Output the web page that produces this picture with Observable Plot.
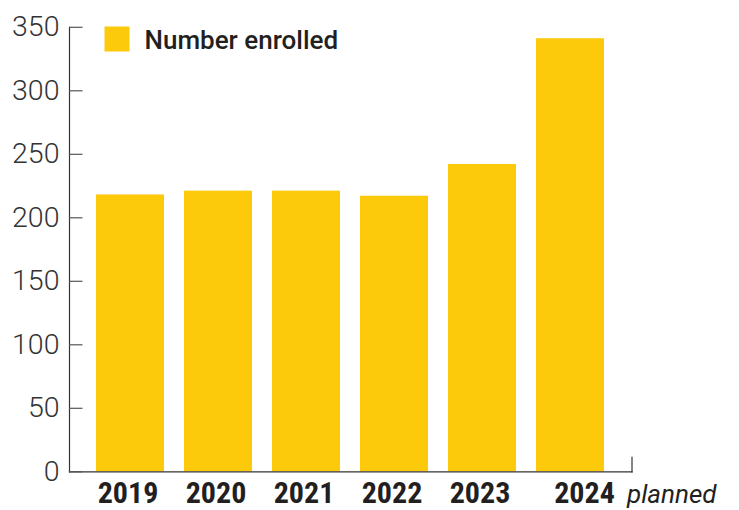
<!DOCTYPE html>
<html>
<head>
<meta charset="utf-8">
<script src="https://cdn.jsdelivr.net/npm/d3@7"></script>
<script src="https://cdn.jsdelivr.net/npm/@observablehq/plot@0.6"></script>
<style>
  html, body { margin: 0; padding: 0; background: #fff; }
  #chart svg { display: block; }
</style>
</head>
<body>
<div id="chart"></div>
<script>
const years = ["2019", "2020", "2021", "2022", "2023", "2024"];
const enrolled = [218, 221, 221, 217, 242, 341];
const plannedYear = "2024";
const plannedLabel = "planned";
const seriesName = "Number enrolled";
const yTicks = [0, 50, 100, 150, 200, 250, 300, 350];

const data = years.map((year, i) => ({year, value: enrolled[i]}));
const yellow = "#fdc90b";
const ink = "#231f20";
const yearFont = "'Liberation Sans Narrow', 'Roboto Condensed', Roboto, sans-serif";

const chart = Plot.plot({
  width: 739,
  height: 510,
  marginLeft: 69,
  marginRight: 107.5,
  marginTop: 26.8,
  marginBottom: 38.7,
  style: {fontFamily: "Roboto", background: "#fff", overflow: "visible"},
  x: {domain: years, paddingInner: 0.23, paddingOuter: 0.294, axis: null},
  y: {domain: [0, 350], axis: null},
  marks: [
    Plot.barY(data, {x: "year", y: "value", fill: yellow}),
    Plot.frame({anchor: "left", stroke: "#333", strokeWidth: 1.2}),
    Plot.frame({anchor: "bottom", stroke: "#333", strokeWidth: 1.2}),
    Plot.frame({anchor: "right", stroke: "#333", strokeWidth: 1.2, insetTop: 430}),
    Plot.tickY(yTicks, {y: d => d, stroke: "#555", strokeWidth: 1.2, insetRight: 549}),
    Plot.axisY({ticks: yTicks, tickSize: 0, tickPadding: 10, fontSize: 28.5, fontWeight: 300, fill: "#333", label: null}),
    Plot.text(years.filter(y => y !== plannedYear), {x: d => d, frameAnchor: "bottom", lineAnchor: "bottom", dy: 31.5, dx: -2.5, fontSize: 30, fontWeight: 700, fontFamily: yearFont, fill: ink}),
    Plot.text([plannedYear], {x: d => d, frameAnchor: "bottom", lineAnchor: "bottom", dy: 31.5, dx: 14, fontSize: 30, fontWeight: 700, fontFamily: yearFont, fill: ink}),
    Plot.text([plannedYear], {x: d => d, text: () => plannedLabel, frameAnchor: "bottom", lineAnchor: "bottom", textAnchor: "start", dy: 31.5, dx: 56.5, fontSize: 26, fontStyle: "italic", fill: ink}),
    Plot.dot([seriesName], {frameAnchor: "top-left", symbol: "square", r: 14.1, fill: yellow, dx: 47.5, dy: 11.7}),
    Plot.text([seriesName], {text: d => d, frameAnchor: "top-left", textAnchor: "start", lineAnchor: "bottom", dx: 75, dy: 21.5, fontSize: 26, fontWeight: 500, fill: ink})
  ]
});
document.getElementById("chart").append(chart);
</script>
</body>
</html>
